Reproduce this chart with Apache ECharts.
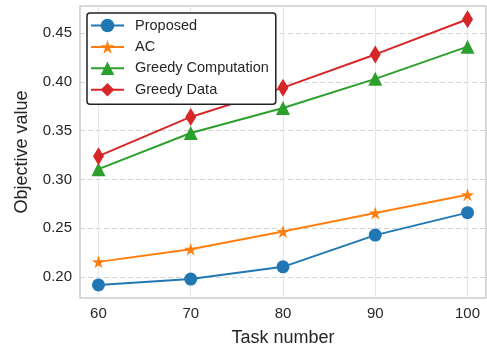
<!DOCTYPE html>
<html>
<head>
<meta charset="utf-8">
<script src="https://cdn.jsdelivr.net/npm/echarts@6/dist/echarts.min.js"></script>
<style>
  html, body { margin: 0; padding: 0; background: #fff; }
  #chart { width: 487px; height: 352px; }
</style>
</head>
<body>
<div id="chart"></div>
<script>
// Task counts on the x axis
const taskNumbers = [60, 70, 80, 90, 100];
// Objective value per method
const proposed = [0.192, 0.198, 0.2105, 0.243, 0.266];
const ac = [0.2156, 0.2286, 0.2466, 0.2656, 0.2844];
const greedyComputation = [0.3105, 0.3476, 0.3732, 0.403, 0.436];
const greedyData = [0.3238, 0.364, 0.394, 0.428, 0.464];
// Tick values
const xTicks = [60, 70, 80, 90, 100];
const yTicks = [0.20, 0.25, 0.30, 0.35, 0.40, 0.45];

const FONT = '"Liberation Sans", Arial, sans-serif';
const TEXT = '#262626';
const STAR = 'path://M50,0 L61.2,34.5 L97.6,34.5 L68.2,55.9 L79.4,90.5 L50,69.1 L20.6,90.5 L31.8,55.9 L2.4,34.5 L38.8,34.5 Z';

function pairs(vals) { return taskNumbers.map((t, i) => [t, vals[i]]); }

function series(name, vals, color, symbol, size) {
  return {
    name, type: 'line', data: pairs(vals),
    symbol, symbolSize: size,
    lineStyle: { color, width: 2 },
    itemStyle: { color, borderWidth: 0 },
    emphasis: { disabled: true },
    animation: false
  };
}

const chart = echarts.init(document.getElementById('chart'), null, { renderer: 'canvas' });
chart.setOption({
  animation: false,
  grid: {
    left: 80, top: 6, right: 1, bottom: 53,
    show: true, borderColor: '#cccccc', borderWidth: 1.5, backgroundColor: '#fff'
  },
  xAxis: {
    type: 'value', min: 58, max: 102,
    name: 'Task number', nameLocation: 'middle', nameGap: 31,
    nameTextStyle: { fontFamily: FONT, fontSize: 18, color: TEXT },
    axisLine: { show: false },
    axisTick: { show: false, customValues: xTicks },
    axisLabel: { customValues: xTicks, fontFamily: FONT, fontSize: 15, color: TEXT, margin: 8 },
    splitLine: { show: true, lineStyle: { color: '#e6e6e6', width: 1.2 } }
  },
  yAxis: {
    type: 'value', min: 0.1786, max: 0.4776,
    name: 'Objective value', nameLocation: 'middle', nameGap: 49,
    nameTextStyle: { fontFamily: FONT, fontSize: 18, color: TEXT },
    axisLine: { show: false },
    axisTick: { show: false, customValues: yTicks },
    axisLabel: {
      customValues: yTicks, fontFamily: FONT, fontSize: 15, color: TEXT, margin: 8,
      formatter: v => v.toFixed(2)
    },
    splitLine: { show: true, lineStyle: { color: '#d4d4d4', width: 1.2, type: [5, 3] } }
  },
  legend: {
    orient: 'vertical', left: 87, top: 13,
    backgroundColor: '#fff', borderColor: '#222', borderWidth: 1.5, borderRadius: 3,
    padding: [5, 7, 7, 3],
    itemWidth: 33, itemHeight: 17, itemGap: 6.4,
    textStyle: { fontFamily: FONT, fontSize: 14.5, color: TEXT, padding: [0, 0, 0, 6] },
    data: ['Proposed', 'AC', 'Greedy Computation', 'Greedy Data']
  },
  series: [
    series('Proposed', proposed, '#1f77b4', 'circle', 13),
    series('AC', ac, '#ff7f0e', STAR, 13),
    series('Greedy Computation', greedyComputation, '#2ca02c', 'triangle', 14),
    series('Greedy Data', greedyData, '#d62728', 'diamond', [11, 18])
  ]
});
</script>
</body>
</html>
